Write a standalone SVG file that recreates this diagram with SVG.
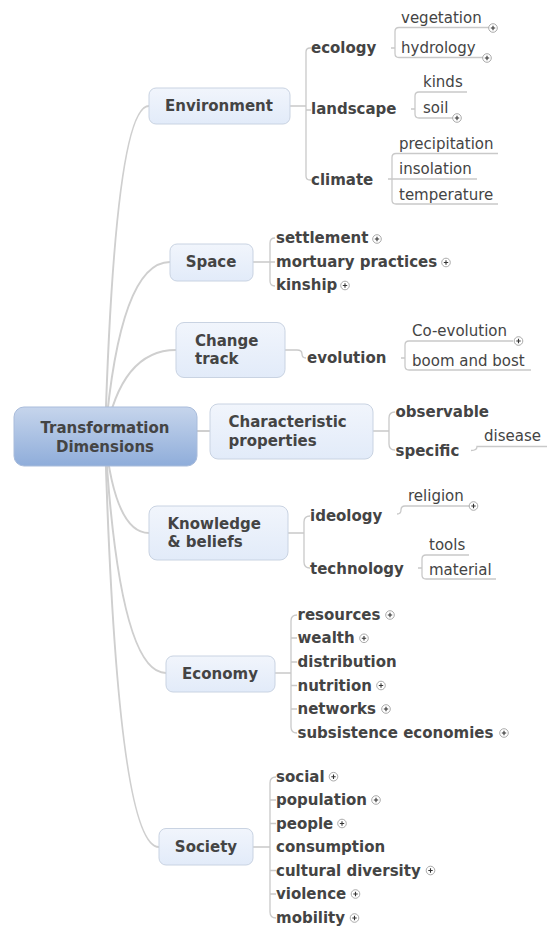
<svg xmlns="http://www.w3.org/2000/svg" width="547" height="927" viewBox="0 0 547 927">
<style>
.box{fill:url(#gb);stroke:#c9d3e2;stroke-width:1}
.root{fill:url(#gr);stroke:#a9bcdb;stroke-width:1}
.tb{font-family:"DejaVu Sans",Verdana,sans-serif;font-weight:bold;font-size:15px;fill:#444}
.tr{font-family:"DejaVu Sans",Verdana,sans-serif;font-size:15px;fill:#444}
.main{fill:none;stroke:#cfcfcf;stroke-width:2}
.br{fill:none;stroke:#c9c9c9;stroke-width:1.3}
</style>
<defs>
<linearGradient id="gb" x1="0" y1="0" x2="0" y2="1"><stop offset="0" stop-color="#f1f5fc"/><stop offset="1" stop-color="#e2ebf9"/></linearGradient>
<linearGradient id="gr" x1="0" y1="0" x2="0" y2="1"><stop offset="0" stop-color="#c6d5ec"/><stop offset="1" stop-color="#8fadda"/></linearGradient>
<symbol id="plus" viewBox="-5 -5 10 10" overflow="visible"><circle r="4.3" fill="#fff" stroke="#a0a0a0" stroke-width="0.9"/><path d="M-2.2,0H2.2M0,-2.2V2.2" stroke="#333" stroke-width="1.1"/></symbol>
</defs>
<g id="connectors">
<path class="main" d="M105,437 Q115,106 149,106"/>
<path class="main" d="M105,437 Q120,262 170,262"/>
<path class="main" d="M105,437 Q121,350 176,350"/>
<path class="main" d="M197,431 H210"/>
<path class="main" d="M105,437 Q115,533 149,533"/>
<path class="main" d="M105,437 Q119,673 166,673"/>
<path class="main" d="M105,437 Q117,847 159,847"/>
<!-- Environment -->
<path class="br" d="M290,106 H306 M311,48 H310 Q306,48 306,52 V176 Q306,180 310,180 H311 M306,110 H311"/>
<path class="br" d="M391,48 H395 M489,27.5 H399 Q395,27.5 395,31.5 V53.5 Q395,57.5 399,57.5 H483"/>
<path class="br" d="M411,109 H415 M467,92 H419 Q415,92 415,96 V114 Q415,118 419,118 H453"/>
<path class="br" d="M388,179 H392 M498,153.5 H396 Q392,153.5 392,157.5 V200 Q392,204 396,204 H498 M392,179 H477"/>
<!-- Space -->
<path class="br" d="M253,262 H275 M275,238 Q270,238 270,243 V281 Q270,286 275,286"/>
<!-- Change track -->
<path class="br" d="M285,350 H297 Q302,350 302,354 Q302,358 306,358"/>
<path class="br" d="M401,358 H405 M513,341 H409 Q405,341 405,345 V366 Q405,370 409,370 H531"/>
<!-- Characteristic -->
<path class="br" d="M373,431 H389 M395,412 Q389,412 389,418 V444 Q389,450 395,450"/>
<path class="br" d="M471,450.5 Q477,450.5 477,446.5 H547"/>
<!-- Knowledge -->
<path class="br" d="M288,533 H304 M310,516 Q304,516 304,522 V562 Q304,568 310,568"/>
<path class="br" d="M397,514 Q401,514 401,510 Q401,506 405,506 H469"/>
<path class="br" d="M418,568 H422 M469,555 H426 Q422,555 422,559 V575 Q422,579 426,579 H496"/>
<!-- Economy -->
<path class="br" d="M275,673 H291 M297,615 Q291,615 291,621 V727 Q291,733 297,733 M291,638 H297 M291,662 H297 M291,685.5 H297 M291,709 H297"/>
<!-- Society -->
<path class="br" d="M253,847 H270 M276,777 Q270,777 270,783 V912 Q270,918 276,918 M270,800 H276 M270,823.5 H276 M270,870.5 H276 M270,894 H276"/>
</g>
<g id="root"><rect class="root" x="14" y="407" width="183" height="59" rx="10"/><text class="tb" x="105" y="433" text-anchor="middle" fill="#333">Transformation</text><text class="tb" x="105" y="451.5" text-anchor="middle">Dimensions</text></g>
<g id="environment"><rect class="box" x="149" y="88" width="141" height="36" rx="7"/><text class="tb" x="219" y="111" text-anchor="middle">Environment</text></g>
<g id="ecology"><text class="tb" x="311" y="53.3">ecology</text></g>
<g id="vegetation"><text class="tr" x="401" y="22.7">vegetation</text><use href="#plus" x="488" y="23" width="10" height="10"/></g>
<g id="hydrology"><text class="tr" x="401" y="53.3">hydrology</text><use href="#plus" x="482" y="53" width="10" height="10"/></g>
<g id="landscape"><text class="tb" x="311" y="114.3">landscape</text></g>
<g id="kinds"><text class="tr" x="423" y="87.3">kinds</text></g>
<g id="soil"><text class="tr" x="423" y="113.3">soil</text><use href="#plus" x="452" y="113" width="10" height="10"/></g>
<g id="climate"><text class="tb" x="311" y="185">climate</text></g>
<g id="precipitation"><text class="tr" x="399" y="148.5">precipitation</text></g>
<g id="insolation"><text class="tr" x="399" y="174">insolation</text></g>
<g id="temperature"><text class="tr" x="399" y="199.5">temperature</text></g>
<g id="space"><rect class="box" x="170" y="244" width="83" height="37" rx="7"/><text class="tb" x="211" y="267" text-anchor="middle">Space</text></g>
<g id="settlement"><text class="tb" x="276" y="243.3">settlement</text><use href="#plus" x="372" y="234" width="10" height="10"/></g>
<g id="mortuary"><text class="tb" x="276" y="267">mortuary practices</text><use href="#plus" x="441" y="257.5" width="10" height="10"/></g>
<g id="kinship"><text class="tb" x="276" y="290">kinship</text><use href="#plus" x="340" y="280.5" width="10" height="10"/></g>
<g id="change"><rect class="box" x="176" y="322.5" width="109" height="55" rx="8"/><text class="tb" x="195" y="346">Change</text><text class="tb" x="195" y="364">track</text></g>
<g id="evolution"><text class="tb" x="307" y="363">evolution</text></g>
<g id="coevolution"><text class="tr" x="412" y="335.5">Co-evolution</text><use href="#plus" x="513.5" y="336" width="10" height="10"/></g>
<g id="boom"><text class="tr" x="412" y="365.5">boom and bost</text></g>
<g id="characteristic"><rect class="box" x="210" y="404" width="163" height="55" rx="8"/><text class="tb" x="228.5" y="427.3">Characteristic</text><text class="tb" x="228.5" y="445.7">properties</text></g>
<g id="observable"><text class="tb" x="395.5" y="417">observable</text></g>
<g id="specific"><text class="tb" x="395.5" y="455.5">specific</text></g>
<g id="disease"><text class="tr" x="484" y="441">disease</text></g>
<g id="knowledge"><rect class="box" x="149" y="506" width="139" height="54" rx="8"/><text class="tb" x="167.5" y="529.3">Knowledge</text><text class="tb" x="167.5" y="547.3">&amp; beliefs</text></g>
<g id="ideology"><text class="tb" x="310" y="521">ideology</text></g>
<g id="religion"><text class="tr" x="408" y="500.5">religion</text><use href="#plus" x="468.5" y="501" width="10" height="10"/></g>
<g id="technology"><text class="tb" x="310" y="573.5">technology</text></g>
<g id="tools"><text class="tr" x="429" y="550">tools</text></g>
<g id="material"><text class="tr" x="429" y="574.5">material</text></g>
<g id="economy"><rect class="box" x="166" y="656" width="109" height="36" rx="7"/><text class="tb" x="220" y="678.5" text-anchor="middle">Economy</text></g>
<g id="resources"><text class="tb" x="297.5" y="620">resources</text><use href="#plus" x="385" y="610" width="10" height="10"/></g>
<g id="wealth"><text class="tb" x="297.5" y="643.3">wealth</text><use href="#plus" x="359" y="633.3" width="10" height="10"/></g>
<g id="distribution"><text class="tb" x="297.5" y="667">distribution</text></g>
<g id="nutrition"><text class="tb" x="297.5" y="690.5">nutrition</text><use href="#plus" x="376" y="680.5" width="10" height="10"/></g>
<g id="networks"><text class="tb" x="297.5" y="714">networks</text><use href="#plus" x="381" y="704" width="10" height="10"/></g>
<g id="subsistence"><text class="tb" x="297.5" y="738">subsistence economies</text><use href="#plus" x="499" y="728" width="10" height="10"/></g>
<g id="society"><rect class="box" x="159" y="828.5" width="94" height="36.5" rx="7"/><text class="tb" x="206" y="852" text-anchor="middle">Society</text></g>
<g id="social"><text class="tb" x="276" y="781.7">social</text><use href="#plus" x="328.5" y="771.7" width="10" height="10"/></g>
<g id="population"><text class="tb" x="276" y="805">population</text><use href="#plus" x="371" y="795" width="10" height="10"/></g>
<g id="people"><text class="tb" x="276" y="828.5">people</text><use href="#plus" x="337" y="818.5" width="10" height="10"/></g>
<g id="consumption"><text class="tb" x="276" y="852">consumption</text></g>
<g id="cultural"><text class="tb" x="276" y="875.5">cultural diversity</text><use href="#plus" x="425.5" y="865.5" width="10" height="10"/></g>
<g id="violence"><text class="tb" x="276" y="899">violence</text><use href="#plus" x="350.5" y="889" width="10" height="10"/></g>
<g id="mobility"><text class="tb" x="276" y="923">mobility</text><use href="#plus" x="349.5" y="913" width="10" height="10"/></g>
</svg>
